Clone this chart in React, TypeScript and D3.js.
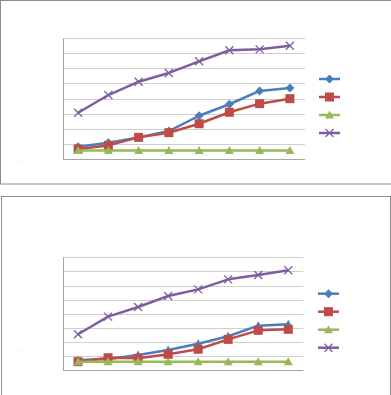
import React, { useEffect, useRef } from 'react';
import * as d3 from 'd3';

// categories along the x axis (no labels shown in the picture)
const categories = ['1', '2', '3', '4', '5', '6', '7', '8'];
const seriesNames = ['Series1', 'Series2', 'Series3', 'Series4'];
const yTicks = [0, 1, 2, 3, 4, 5, 6, 7, 8];

// top chart values
const topBlue = [0.81, 1.08, 1.43, 1.85, 2.86, 3.62, 4.5, 4.69];
const topRed = [0.66, 0.9, 1.43, 1.74, 2.33, 3.09, 3.66, 3.99];
const topGreen = [0.57, 0.57, 0.57, 0.57, 0.57, 0.57, 0.57, 0.57];
const topPurple = [3.06, 4.23, 5.11, 5.69, 6.46, 7.19, 7.25, 7.49];

// bottom chart values
const botBlue = [0.73, 0.8, 1.08, 1.44, 1.88, 2.41, 3.16, 3.26];
const botRed = [0.61, 0.89, 0.85, 1.13, 1.49, 2.19, 2.83, 2.9];
const botGreen = [0.61, 0.61, 0.61, 0.61, 0.61, 0.61, 0.61, 0.61];
const botPurple = [2.55, 3.8, 4.48, 5.26, 5.73, 6.44, 6.75, 7.08];

const colors = ['#4a7ebb', '#be4b48', '#98b954', '#7d5fa0'];
const markers = ['diamond', 'square', 'triangle', 'cross'];

interface PanelSpec {
  box: [number, number, number, number];
  plot: { left: number; top: number; right: number; bottom: number };
  legendX: number;
  legendY: number;
  dotsY: number;
  series: number[][];
  blueMarker: string;
}

const panels: PanelSpec[] = [
  {
    box: [0.5, 0.5, 392, 183.5],
    plot: { left: 63, top: 38, right: 305, bottom: 159 },
    legendX: 319,
    legendY: 79,
    dotsY: 160,
    series: [topBlue, topRed, topGreen, topPurple],
    blueMarker: 'diamond',
  },
  {
    box: [1.5, 196.5, 389, 210],
    plot: { left: 63, top: 257.3, right: 303.3, bottom: 370.3 },
    legendX: 318,
    legendY: 293.7,
    dotsY: 350,
    series: [botBlue, botRed, botGreen, botPurple],
    blueMarker: 'triangle',
  },
];

const drawMarker = (g: d3.Selection<SVGGElement, unknown, null, undefined>, type: string, x: number, y: number, color: string) => {
  if (type === 'diamond') {
    g.append('path')
      .attr('d', `M${x},${y - 4.5}L${x + 4.5},${y}L${x},${y + 4.5}L${x - 4.5},${y}Z`)
      .attr('fill', color);
  } else if (type === 'square') {
    g.append('rect')
      .attr('x', x - 4.5).attr('y', y - 4.5)
      .attr('width', 9).attr('height', 9)
      .attr('fill', color);
  } else if (type === 'triangle') {
    g.append('path')
      .attr('d', `M${x},${y - 4.5}L${x + 4.5},${y + 3.5}L${x - 4.5},${y + 3.5}Z`)
      .attr('fill', color);
  } else {
    g.append('path')
      .attr('d', `M${x - 4},${y - 4}L${x + 4},${y + 4}M${x - 4},${y + 4}L${x + 4},${y - 4}`)
      .attr('stroke', color)
      .attr('stroke-width', 1.3);
  }
};

const App: React.FC = () => {
  const ref = useRef<SVGSVGElement>(null);

  useEffect(() => {
    const svg = d3.select(ref.current);
    svg.selectAll('*').remove();

    panels.forEach(p => {
      const g = svg.append('g');

      // outer box
      g.append('rect')
        .attr('x', p.box[0]).attr('y', p.box[1])
        .attr('width', p.box[2]).attr('height', p.box[3])
        .attr('fill', '#fff')
        .attr('stroke', '#8c8c8c')
        .attr('stroke-width', 1);

      const x = d3.scaleBand<string>()
        .domain(categories)
        .range([p.plot.left, p.plot.right]);

      const y = d3.scaleLinear()
        .domain([0, 8])
        .range([p.plot.bottom, p.plot.top]);

      // gridlines
      g.selectAll('.grid')
        .data(yTicks.slice(1))
        .enter().append('line')
        .attr('x1', p.plot.left).attr('x2', p.plot.right)
        .attr('y1', d => Math.round(y(d)) + 0.5)
        .attr('y2', d => Math.round(y(d)) + 0.5)
        .attr('stroke', '#cfcfcf')
        .attr('stroke-width', 1);

      // axes lines
      g.append('line')
        .attr('x1', p.plot.left + 0.5).attr('x2', p.plot.left + 0.5)
        .attr('y1', p.plot.top).attr('y2', p.plot.bottom)
        .attr('stroke', '#a6a6a6');
      g.append('line')
        .attr('x1', p.plot.left).attr('x2', p.plot.right)
        .attr('y1', Math.round(p.plot.bottom) + 0.5).attr('y2', Math.round(p.plot.bottom) + 0.5)
        .attr('stroke', '#a6a6a6');

      const line = d3.line<number>()
        .x((_, i) => x(categories[i])! + x.bandwidth() / 2)
        .y(d => y(d));

      p.series.forEach((vals, si) => {
        const color = colors[si];
        const mk = si === 0 ? p.blueMarker : markers[si];
        g.append('path')
          .attr('d', line(vals)!)
          .attr('fill', 'none')
          .attr('stroke', color)
          .attr('stroke-width', 2.5)
          .attr('stroke-linejoin', 'round');
        vals.forEach((v, i) => {
          drawMarker(g, mk, x(categories[i])! + x.bandwidth() / 2, y(v), color);
        });
      });

      // legend
      seriesNames.forEach((name, si) => {
        const ly = p.legendY + si * 18;
        const color = colors[si];
        const mk = si === 0 ? (p.blueMarker === 'triangle' ? 'diamond' : 'diamond') : markers[si];
        g.append('line')
          .attr('x1', p.legendX).attr('x2', p.legendX + 21)
          .attr('y1', ly).attr('y2', ly)
          .attr('stroke', color)
          .attr('stroke-width', 2.5);
        drawMarker(g, mk, p.legendX + 10.5, ly, color);
        g.append('text')
          .attr('x', p.legendX + 26)
          .attr('y', ly + 3)
          .attr('font-size', 1)
          .attr('fill', '#fff')
          .text(name);
      });

      // tiny marks left of the plot
      g.append('text')
        .attr('x', 15.5)
        .attr('y', p.dotsY + 1)
        .attr('font-family', 'DejaVu Sans')
        .attr('font-size', 5)
        .attr('fill', '#b0b0b0')
        .text('.  .');
    });
  }, []);

  return (
    <div style={{ position: 'absolute', left: 0, top: 0 }}>
      <svg ref={ref} width={391} height={395} style={{ display: 'block' }}></svg>
    </div>
  );
};

export default App;
